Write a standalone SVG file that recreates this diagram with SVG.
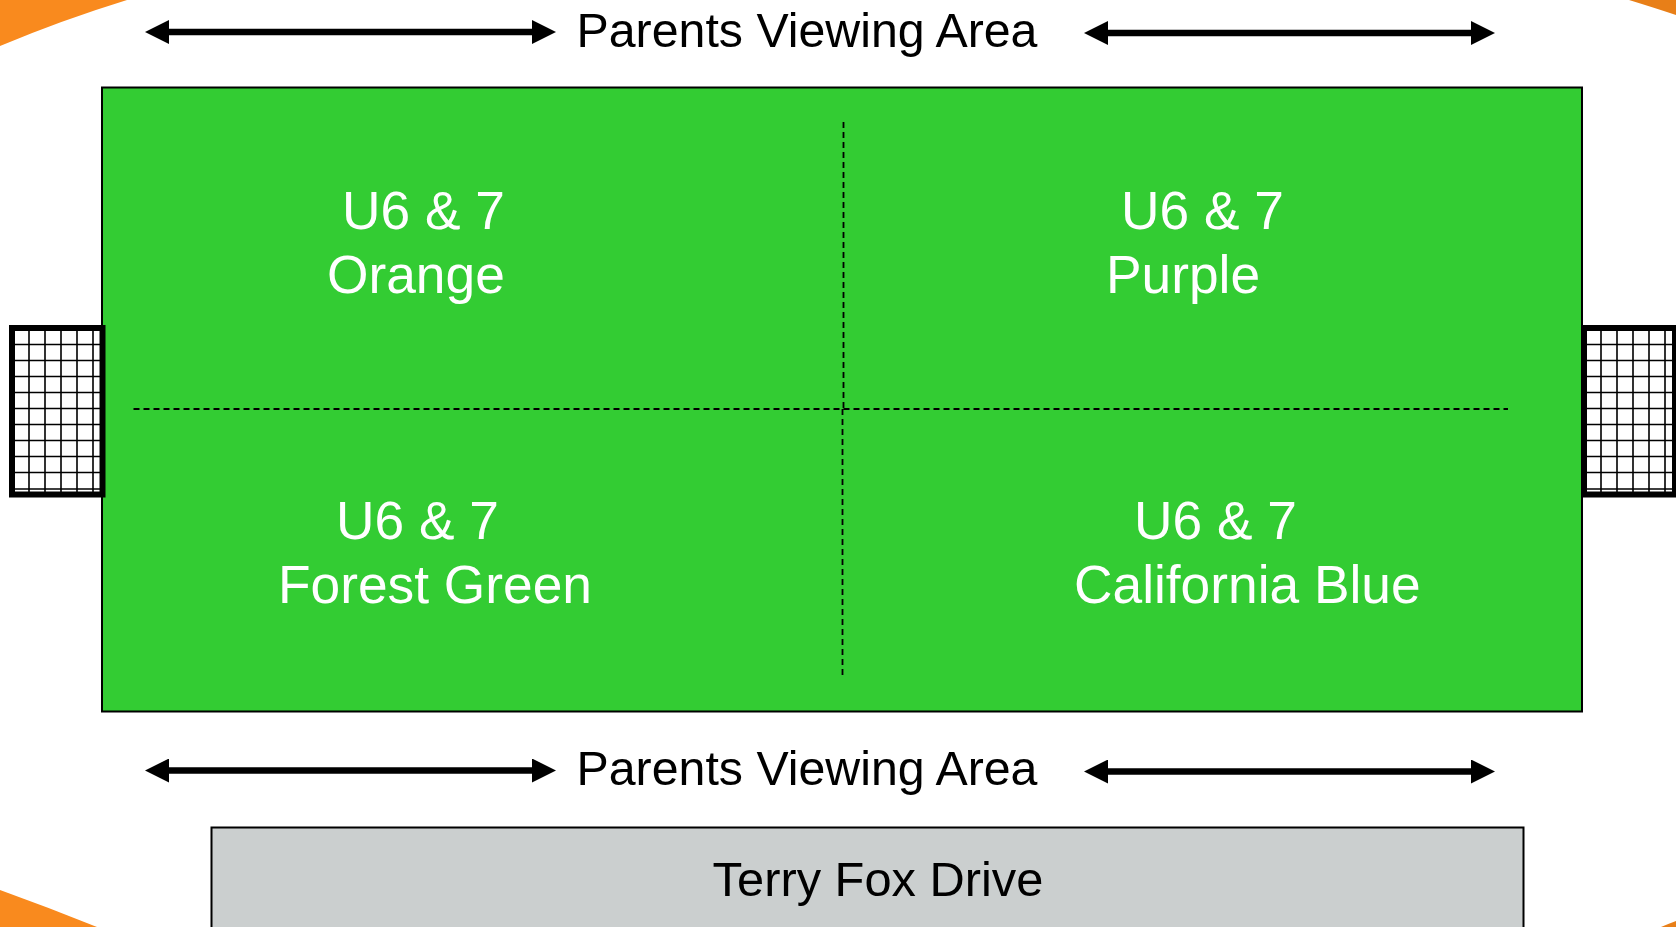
<svg xmlns="http://www.w3.org/2000/svg" width="1676" height="927" viewBox="0 0 1676 927">
<style>
text{font-family:"Liberation Sans",Arial,sans-serif}
.w{fill:#fff;font-size:53.3px}.k{fill:#000;font-size:48.3px}
.ar{stroke:#000;stroke-width:6.500;fill:none;marker-start:url(#m);marker-end:url(#m)}
.d{stroke:#000;stroke-width:1.800;stroke-dasharray:6 4;fill:none}
.net{stroke:#000;stroke-width:1.600;fill:none}
.fr{stroke:#000;stroke-width:6;fill:none}
</style>
<defs>
<marker id="m" markerUnits="userSpaceOnUse" markerWidth="24" markerHeight="24" refX="12" refY="12" orient="auto-start-reverse" viewBox="0 0 24 24"><path d="M0 0L24 12L0 24z" fill="#000"/></marker>
</defs>
<rect width="1676" height="927" fill="#fff"/>
<g id="corners" fill="#f98a1e">
<path d="M0 0H127Q62 20 0 46z"/>
<path d="M1676 0H1629Q1655 8 1676 15z" fill="#e87f18"/>
<path d="M0 890Q50 908 97 927H0z"/>
<path d="M1676 921Q1668 924 1661 927H1676z" fill="#e87f18"/>
</g>
<g id="field"><rect x="102" y="87.500" width="1480" height="624" fill="#33cc33" stroke="#000" stroke-width="2"/></g>
<g id="goal-left" fill="#fff"><rect x="12" y="328" width="90" height="166.500"/><path class="net" d="M29 330V492M45 330V492M61 330V492M77 330V492M93 330V492M14 344.500H100M14 360.500H100M14 376.500H100M14 392.500H100M14 408.500H100M14 424.500H100M14 440.500H100M14 456.500H100M14 472.500H100M14 489H100"/><rect class="fr" x="12" y="328" width="90.500" height="166.500"/></g>
<g id="goal-right" fill="#fff"><rect x="1584" y="328" width="91" height="166.500"/><path class="net" d="M1601 330V492M1617 330V492M1633 330V492M1649 330V492M1665 330V492M1586 344.500H1672M1586 360.500H1672M1586 376.500H1672M1586 392.500H1672M1586 408.500H1672M1586 424.500H1672M1586 440.500H1672M1586 456.500H1672M1586 472.500H1672M1586 489H1672"/><rect class="fr" x="1584" y="328" width="91" height="166.500"/></g>
<g id="road"><rect x="211.500" y="827.500" width="1312" height="110" fill="#cbcfcf" stroke="#000" stroke-width="2"/><text x="878" y="896" text-anchor="middle" class="k" style="font-size:48.800px">Terry Fox Drive</text></g>
<g id="connectors">
<path class="ar" d="M157 32H544"/>
<path class="ar" d="M1096 33H1483"/>
<path class="ar" d="M157 770.500H544"/>
<path class="ar" d="M1096 771.500H1483"/>
<path class="d" d="M843.500 122V409M133.500 409H1508M842.500 409V678"/>
</g>
<g id="labels">
<text x="807" y="47" text-anchor="middle" class="k">Parents Viewing Area</text>
<text x="807" y="785" text-anchor="middle" class="k">Parents Viewing Area</text>
<text x="342" y="229" class="w">U6 &amp; 7</text><text x="327" y="293" class="w">Orange</text>
<text x="1121" y="229" class="w">U6 &amp; 7</text><text x="1106" y="293" class="w">Purple</text>
<text x="336" y="539" class="w">U6 &amp; 7</text><text x="278" y="603" class="w">Forest Green</text>
<text x="1134" y="539" class="w">U6 &amp; 7</text><text x="1074" y="603" class="w">California Blue</text>
</g>
</svg>
